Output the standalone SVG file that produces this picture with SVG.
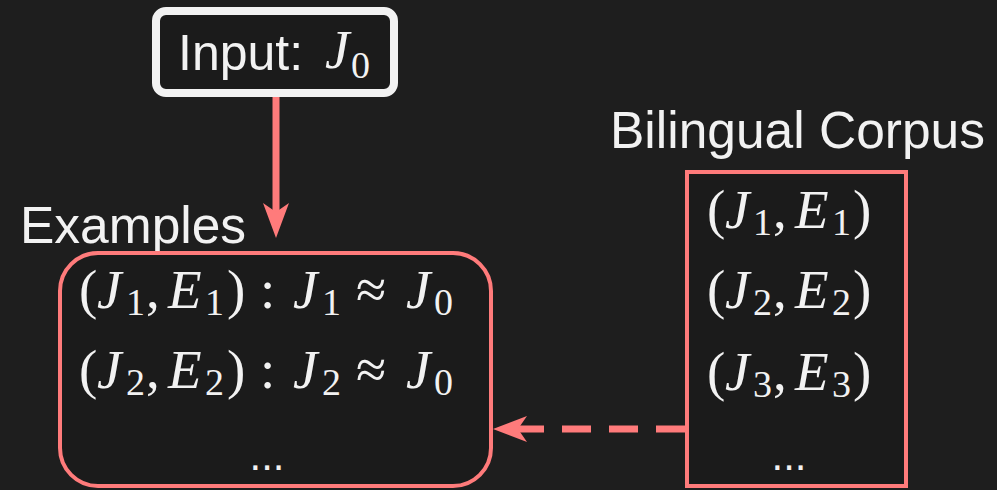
<svg xmlns="http://www.w3.org/2000/svg" width="997" height="490" viewBox="0 0 997 490">
<style>
.bg{fill:#1e1e1e}
.lbl{font-family:"Liberation Sans",Arial,sans-serif;font-size:51.5px;fill:#f2f2f2}
.m{font-family:"Liberation Serif","Times New Roman",serif;font-size:55px;fill:#f2f2f2}
.it{font-style:italic}
.sub{font-size:38px}
.dots{font-family:"Liberation Sans",Arial,sans-serif;font-size:42px;fill:#f2f2f2;text-anchor:middle}
.edge{stroke:#ff7b7b;stroke-width:7;fill:none}
.head{fill:#ff7b7b}
</style>
<rect class="bg" x="0" y="0" width="997" height="490"/>

<g id="input">
  <rect x="156" y="11" width="238" height="82" rx="10" fill="#1b1b1b" stroke="#f2f2f2" stroke-width="8"/>
  <text class="lbl" x="178" y="70" style="font-size:50px">Input:</text>
  <text class="m" y="68"><tspan class="it" x="325">J</tspan><tspan class="sub" x="351" dy="10">0</tspan></text>
</g>

<g id="examples">
  <text class="lbl" x="20" y="243">Examples</text>
  <rect x="60" y="253" width="431" height="233" rx="38" fill="#1b1b1b" stroke="#ff7b7b" stroke-width="4"/>
  <text class="m" y="308"><tspan x="79">(</tspan><tspan class="it" x="97">J</tspan><tspan class="sub" x="126" dy="7">1</tspan><tspan x="146" dy="-7">,</tspan><tspan class="it" x="168">E</tspan><tspan class="sub" x="205" dy="7">1</tspan><tspan x="227" dy="-7">)</tspan><tspan x="260">:</tspan><tspan class="it" x="293">J</tspan><tspan class="sub" x="322" dy="7">1</tspan><tspan x="356" dy="-7">≈</tspan><tspan class="it" x="406">J</tspan><tspan class="sub" x="434" dy="7">0</tspan></text>
  <text class="m" y="388"><tspan x="79">(</tspan><tspan class="it" x="97">J</tspan><tspan class="sub" x="126" dy="7">2</tspan><tspan x="146" dy="-7">,</tspan><tspan class="it" x="168">E</tspan><tspan class="sub" x="205" dy="7">2</tspan><tspan x="227" dy="-7">)</tspan><tspan x="260">:</tspan><tspan class="it" x="293">J</tspan><tspan class="sub" x="322" dy="7">2</tspan><tspan x="356" dy="-7">≈</tspan><tspan class="it" x="406">J</tspan><tspan class="sub" x="434" dy="7">0</tspan></text>
  <text class="dots" x="267" y="470">...</text>
</g>

<g id="corpus">
  <text class="lbl" x="610" y="148">Bilingual Corpus</text>
  <rect x="687" y="172" width="219" height="314" fill="#1b1b1b" stroke="#ff7b7b" stroke-width="4"/>
  <text class="m" y="228"><tspan x="707">(</tspan><tspan class="it" x="725">J</tspan><tspan class="sub" x="753" dy="7">1</tspan><tspan x="773" dy="-7">,</tspan><tspan class="it" x="795">E</tspan><tspan class="sub" x="832" dy="7">1</tspan><tspan x="853" dy="-7">)</tspan></text>
  <text class="m" y="308"><tspan x="707">(</tspan><tspan class="it" x="725">J</tspan><tspan class="sub" x="753" dy="7">2</tspan><tspan x="773" dy="-7">,</tspan><tspan class="it" x="795">E</tspan><tspan class="sub" x="832" dy="7">2</tspan><tspan x="853" dy="-7">)</tspan></text>
  <text class="m" y="390"><tspan x="707">(</tspan><tspan class="it" x="725">J</tspan><tspan class="sub" x="753" dy="7">3</tspan><tspan x="773" dy="-7">,</tspan><tspan class="it" x="795">E</tspan><tspan class="sub" x="832" dy="7">3</tspan><tspan x="853" dy="-7">)</tspan></text>
  <text class="dots" x="789" y="470">...</text>
</g>

<g id="connectors">
  <line class="edge" x1="276" y1="97" x2="276" y2="215"/>
  <path class="head" d="M276,238 L263,203 L276,212 L289,203 Z"/>
  <line class="edge" x1="685" y1="429" x2="515" y2="429" stroke-dasharray="29 18" stroke-width="8"/>
  <path class="head" d="M493,429 L527,416 L518,429 L527,442 Z"/>
</g>
</svg>
